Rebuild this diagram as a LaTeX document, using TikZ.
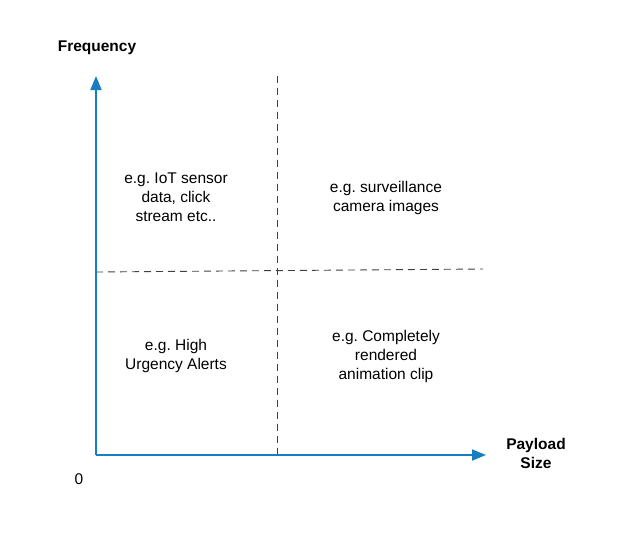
\documentclass[tikz,border=0pt]{standalone}
\usepackage{fontspec}
\setmainfont{Liberation Sans}
\usepackage{tikz}
\usetikzlibrary{arrows.meta, positioning}
\definecolor{axisblue}{RGB}{24,126,194}
\frenchspacing

\begin{document}
\begin{tikzpicture}[x=1pt, y=-1pt,
    axis/.style={draw=axisblue, line width=1.8pt, -{Triangle[length=14pt,width=11pt]}},
    split/.style={draw=black!75, line width=0.9pt, dash pattern=on 7pt off 5pt},
    quad/.style={align=center, font=\fontsize{15.5}{19}\selectfont, inner sep=0pt},
    axlabel/.style={align=center, font=\fontsize{15.5}{19}\selectfont\bfseries, inner sep=0pt}]
    \useasboundingbox (0,0) rectangle (630,557);

    \coordinate (O) at (96,455);
    \coordinate (Ytop) at (96,76);
    \coordinate (Xend) at (486,455);
    \coordinate (Vtop) at (277,76);
    \coordinate (Vbot) at (277,455);
    \coordinate (Hleft) at (96,272);
    \coordinate (Hright) at (483,269);

    \draw[split] (Vtop) -- (Vbot);
    \draw[split] (Hleft) -- (Hright);
    \draw[axis] (O) -- (Ytop);
    \draw[axis] (O) -- (Xend);

    \node[axlabel] (freq) at (97,48) {Frequency};
    \node[axlabel] (size) at (536,453) {Payload\\Size};
    \node[quad] (zero) at (79,479) {0};

    \node[quad] (iot) at (176,197) {e.g. IoT sensor\\data, click\\stream etc..};
    \node[quad] (cam) at (386,198) {e.g. surveillance\\camera images};
    \node[quad] (alert) at (176,356) {e.g. High\\Urgency Alerts};
    \node[quad] (anim) at (386,356) {e.g. Completely\\rendered\\animation clip};
\end{tikzpicture}
\end{document}
